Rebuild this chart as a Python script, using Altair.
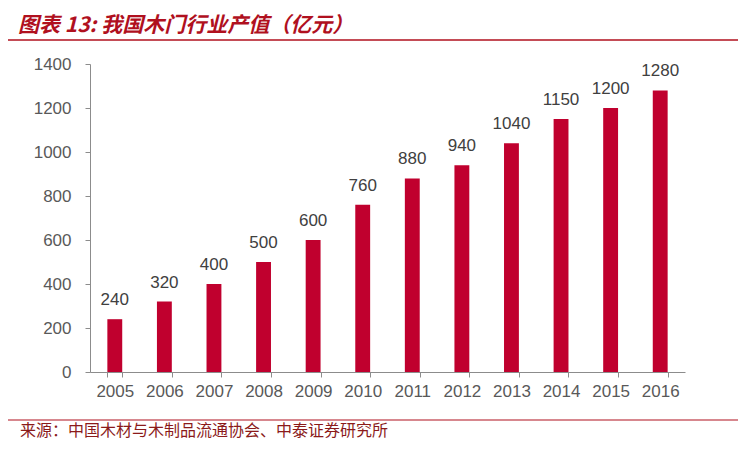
import altair as alt
import pandas as pd

years = ["2005", "2006", "2007", "2008", "2009", "2010", "2011", "2012", "2013", "2014", "2015", "2016"]
values = [240, 320, 400, 500, 600, 760, 880, 940, 1040, 1150, 1200, 1280]
y_ticks = [0, 200, 400, 600, 800, 1000, 1200, 1400]
title_text = "图表 13:  我国木门行业产值（亿元）"
source_text = "来源：中国木材与木制品流通协会、中泰证券研究所"

df = pd.DataFrame({"year": years, "value": values})

BAR = "#C0002E"
AXIS = "#8C8C8C"
LABEL = "#595959"
DARKRED = "#B0101E"

base = alt.Chart(df)

x_enc = alt.X(
    "year:N",
    sort=years,
    scale=alt.Scale(paddingInner=0.7, paddingOuter=0.35),
    axis=alt.Axis(
        title=None, labelAngle=0, domainColor=AXIS, tickColor=AXIS,
        tickSize=5, tickBand="extent", labelFont="Liberation Sans",
        labelFontSize=17, labelColor=LABEL, labelPadding=6,
    ),
)
y_enc = alt.Y(
    "value:Q",
    scale=alt.Scale(domain=[0, 1400]),
    axis=alt.Axis(
        title=None, values=y_ticks, grid=False, domainColor=AXIS, format="d",
        tickColor=AXIS, tickSize=5, labelFont="Liberation Sans",
        labelFontSize=17, labelColor=LABEL, labelPadding=14,
    ),
)

bars = base.mark_bar(color=BAR).encode(x=x_enc, y=y_enc)
labels = base.mark_text(
    font="Liberation Sans", fontSize=17, color="#404040",
    baseline="alphabetic", dy=-14,
).encode(x=alt.X("year:N", sort=years), y="value:Q", text="value:Q")

title = alt.Chart(pd.DataFrame({"t": [title_text]})).mark_text(
    font="Noto Sans CJK SC", fontSize=21, fontWeight="bold", fontStyle="italic",
    color=DARKRED, align="left", baseline="middle",
).encode(x=alt.value(-72), y=alt.value(-38), text="t:N")

title_line = alt.Chart(pd.DataFrame({"a": [0]})).mark_rule(
    color=DARKRED, strokeWidth=1.5
).encode(x=alt.value(-87), x2=alt.value(664), y=alt.value(-24))

source_line = alt.Chart(pd.DataFrame({"a": [0]})).mark_rule(
    color=DARKRED, strokeWidth=1.2
).encode(x=alt.value(-87), x2=alt.value(664), y=alt.value(356))

source = alt.Chart(pd.DataFrame({"t": [source_text]})).mark_text(
    font="Noto Sans CJK SC", fontSize=16, color="#8B1A1A",
    align="left", baseline="middle",
).encode(x=alt.value(-70), y=alt.value(367), text="t:N")

chart = alt.layer(bars, labels, title, title_line, source_line, source).properties(
    width=595,
    height=308,
    padding={"left": 82, "top": 56, "right": 53, "bottom": 70},
    autosize=alt.AutoSizeParams(type="none"),
).configure_view(stroke=None)

chart.save("out.html", embed_options={"renderer": "svg", "actions": False})
